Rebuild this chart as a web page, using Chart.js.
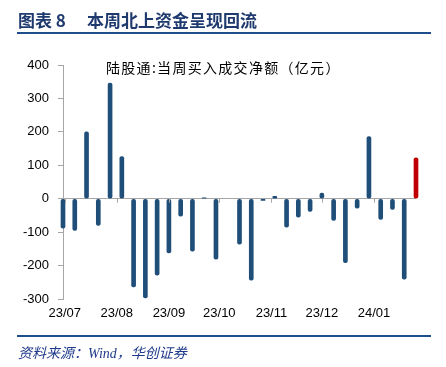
<!DOCTYPE html>
<html>
<head>
<meta charset="utf-8">
<script src="https://cdn.jsdelivr.net/npm/chart.js@4"></script>
<style>
    body { margin: 0; background: #fff; }
    #wrap { position: relative; width: 446px; height: 367px; overflow: hidden; }
    #chart { position: absolute; left: 0; top: 0; }
    .head { position: absolute; top: 10px; font: bold 17px "Noto Sans CJK SC", sans-serif; color: #1f3a6e; line-height: 20px; white-space: nowrap; }
    .rule { position: absolute; left: 17px; width: 414px; height: 2px; background: #1f4e8c; }
    #inner { position: absolute; left: 106px; top: 57px; font: 14px "Noto Sans CJK SC", sans-serif; letter-spacing: 1.3px; color: #000; line-height: 20px; white-space: nowrap; }
    #source { position: absolute; left: 18px; top: 344px; font: italic 14px "Liberation Serif", "Noto Sans CJK SC", serif; color: #1f3a8a; line-height: 20px; white-space: nowrap; }
</style>
</head>
<body>
<div id="wrap">
    <canvas id="chart" width="446" height="367"></canvas>
    <div class="head" style="left:18px">图表 8</div>
    <div class="head" style="left:87px">本周北上资金呈现回流</div>
    <div class="rule" style="top:32px"></div>
    <div id="inner">陆股通:当周买入成交净额（亿元）</div>
    <div class="rule" style="top:335px"></div>
    <div id="source">资料来源：Wind，华创证券</div>
</div>
<script>
    // weekly dates (Friday of each week)
    const weeks = [
        '2023-06-30', '2023-07-07', '2023-07-14', '2023-07-21', '2023-07-28',
        '2023-08-04', '2023-08-11', '2023-08-18', '2023-08-25',
        '2023-09-01', '2023-09-08', '2023-09-15', '2023-09-22', '2023-09-29',
        '2023-10-06', '2023-10-13', '2023-10-20', '2023-10-27',
        '2023-11-03', '2023-11-10', '2023-11-17', '2023-11-24',
        '2023-12-01', '2023-12-08', '2023-12-15', '2023-12-22', '2023-12-29',
        '2024-01-05', '2024-01-12', '2024-01-19', '2024-01-26'
    ];
    // net northbound buying, 100m CNY
    const netBuy = [
        -88, -95, 200, -80, 346,
        126, -264, -297, -229,
        -162, -52, -157, 3, -181,
        null, -136, -244, -5,
        7, -85, -55, -38,
        17, -65, -191, -28, 186,
        -62, -32, -241, 122
    ];
    const monthStarts = ['2023-07-01', '2023-08-01', '2023-09-01', '2023-10-01', '2023-11-01', '2023-12-01', '2024-01-01'];
    const monthLabels = ['23/07', '23/08', '23/09', '23/10', '23/11', '23/12', '24/01'];
    const yTicks = [-300, -200, -100, 0, 100, 200, 300, 400];

    const DAY = 86400000;
    const t0 = Date.parse(weeks[0]);
    const dayOf = d => (Date.parse(d) - t0) / DAY;
    const monthPos = monthStarts.map(dayOf);

    const blue = '#1f4e79';
    const red = '#c00000';
    const gray = '#a6a6a6';

    // small tick marks under the zero line at each month label
    const zeroTicks = {
        id: 'zeroTicks',
        afterDatasetsDraw(chart) {
            const ctx = chart.ctx;
            const y0 = chart.scales.y.getPixelForValue(0);
            ctx.save();
            ctx.strokeStyle = gray;
            ctx.lineWidth = 1;
            monthPos.forEach(p => {
                const x = Math.round(chart.scales.x.getPixelForValue(p)) + 0.5;
                ctx.beginPath();
                ctx.moveTo(x, y0);
                ctx.lineTo(x, y0 + 4);
                ctx.stroke();
            });
            ctx.restore();
        }
    };

    new Chart(document.getElementById('chart'), {
        type: 'bar',
        data: {
            datasets: [{
                data: weeks.map((d, i) => ({ x: dayOf(d), y: netBuy[i] })),
                backgroundColor: netBuy.map((v, i) => i === netBuy.length - 1 ? red : blue),
                barThickness: 4,
                borderRadius: 2,
                borderSkipped: false,
                clip: false
            }]
        },
        options: {
            responsive: false,
            animation: false,
            layout: { padding: { top: 65, right: 30, bottom: 45, left: 0 } },
            plugins: { legend: { display: false }, tooltip: { enabled: false } },
            scales: {
                x: {
                    type: 'linear',
                    offset: false,
                    min: 0,
                    max: dayOf(weeks[weeks.length - 1]),
                    afterBuildTicks: s => { s.ticks = monthPos.map(v => ({ value: v })); },
                    afterFit: s => { s.height = 23; },
                    grid: { display: false, drawTicks: false },
                    border: { display: false },
                    ticks: {
                        autoSkip: false,
                        maxRotation: 0,
                        padding: 7,
                        color: '#000',
                        font: { family: 'Liberation Sans', size: 13 },
                        callback: (v, i) => monthLabels[i]
                    }
                },
                y: {
                    min: -300,
                    max: 400,
                    afterBuildTicks: s => { s.ticks = yTicks.map(v => ({ value: v })); },
                    afterFit: s => { s.width = 63; },
                    grid: {
                        color: c => c.tick && c.tick.value === 0 ? gray : 'rgba(0,0,0,0)',
                        tickColor: gray,
                        tickLength: 5
                    },
                    border: { color: gray },
                    ticks: {
                        padding: 9,
                        color: '#000',
                        font: { family: 'Liberation Sans', size: 13 }
                    }
                }
            }
        },
        plugins: [zeroTicks]
    });
</script>
</body>
</html>
